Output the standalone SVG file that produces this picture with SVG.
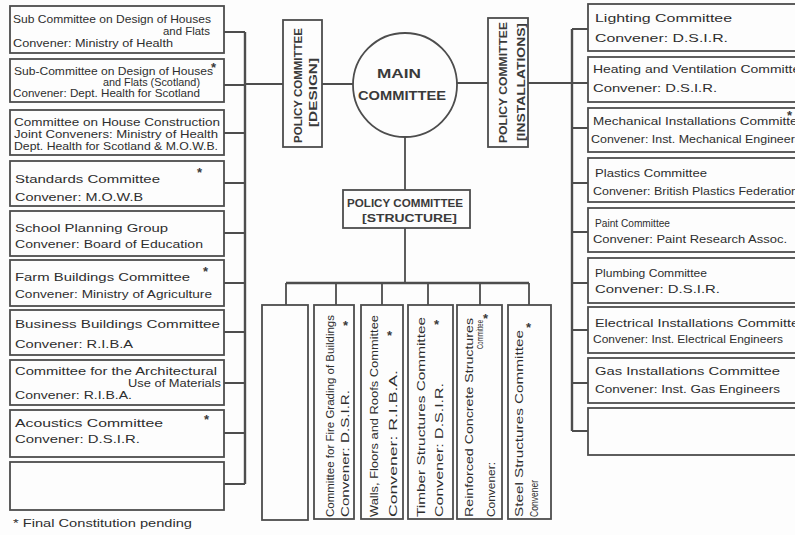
<svg xmlns="http://www.w3.org/2000/svg" width="795" height="535" viewBox="0 0 795 535">
<style>
.bg{fill:#fdfdfd}
.box{fill:none;stroke:#4d4d4d;stroke-width:1.8}
.ln{fill:none;stroke:#4d4d4d;stroke-width:1.8}
.bus{fill:none;stroke:#4d4d4d;stroke-width:2.4}
.t{font-family:"Liberation Sans",Arial,sans-serif;font-size:10.5px;fill:#2e2e2e}
.c{font-family:"Liberation Sans",Arial,sans-serif;font-weight:bold;fill:#3a3a3a}
.st{font-family:"Liberation Sans",Arial,sans-serif;font-size:9px;fill:#2e2e2e}
.ast{font-family:"Liberation Sans",Arial,sans-serif;font-size:13px;font-weight:bold;fill:#3a3a3a}
</style>
<rect class="bg" x="0" y="0" width="795" height="535"/>

<g id="connectors">
  <path class="bus" d="M245 32 V484"/>
  <path class="ln" d="M224 32 H245 M224 85 H245 M224 133 H245 M224 183 H245 M224 233 H245 M224 283 H245 M224 332 H245 M224 383 H245 M224 433 H245 M224 484 H245"/>
  <path class="ln" d="M245 84 H283 M322 84 H353 M457 83 H488 M528 83 H588"/>
  <path class="bus" d="M572 29 V431"/>
  <path class="ln" d="M572 29 H588 M572 128 H588 M572 183 H588 M572 232 H588 M572 283 H588 M572 330 H588 M572 383 H588 M572 431 H588"/>
  <path class="ln" d="M405 137 V190 M405 228 V283"/>
  <path class="bus" d="M286 283 H529"/>
  <path class="ln" d="M286 283 V305 M336 283 V305 M382 283 V305 M428 283 V305 M480 283 V305 M529 283 V305"/>
</g>

<g id="main-committee">
  <circle class="box" cx="405" cy="85" r="52" stroke-width="2"/>
  <text class="c" x="377" y="78" font-size="13" textLength="44" lengthAdjust="spacingAndGlyphs">MAIN</text>
  <text class="c" x="358" y="100" font-size="13" textLength="88" lengthAdjust="spacingAndGlyphs">COMMITTEE</text>
</g>

<g id="policy-design">
  <rect class="box" x="283" y="20" width="39" height="127"/>
  <text class="c" font-size="11" transform="translate(302,143) rotate(-90)" textLength="115" lengthAdjust="spacingAndGlyphs">POLICY COMMITTEE</text>
  <text class="c" font-size="11" transform="translate(317,127) rotate(-90)" textLength="69" lengthAdjust="spacingAndGlyphs">[DESIGN]</text>
</g>

<g id="policy-installations">
  <rect class="box" x="488" y="18" width="40" height="129"/>
  <text class="c" font-size="11" transform="translate(507,143) rotate(-90)" textLength="121" lengthAdjust="spacingAndGlyphs">POLICY COMMITTEE</text>
  <text class="c" font-size="11" transform="translate(525,141) rotate(-90)" textLength="118" lengthAdjust="spacingAndGlyphs">[INSTALLATIONS]</text>
</g>

<g id="policy-structure">
  <rect class="box" x="343" y="190" width="127" height="38"/>
  <text class="c" font-size="10.5" x="347" y="207" textLength="116" lengthAdjust="spacingAndGlyphs">POLICY COMMITTEE</text>
  <text class="c" font-size="10.5" x="362" y="222" textLength="95" lengthAdjust="spacingAndGlyphs">[STRUCTURE]</text>
</g>

<!-- Left column -->
<g id="l1">
  <rect class="box" x="10" y="6" width="214" height="47"/>
  <text class="t" x="13" y="23" textLength="198" lengthAdjust="spacingAndGlyphs">Sub Committee on Design of Houses</text>
  <text class="t" x="163" y="35" textLength="47" lengthAdjust="spacingAndGlyphs">and Flats</text>
  <text class="t" x="13" y="47" textLength="160" lengthAdjust="spacingAndGlyphs">Convener: Ministry of Health</text>
</g>
<g id="l2">
  <rect class="box" x="10" y="59" width="214" height="43"/>
  <text class="t" x="14" y="75" textLength="199" lengthAdjust="spacingAndGlyphs">Sub-Committee on Design of Houses</text>
  <text class="ast" x="211" y="72">*</text>
  <text class="t" x="103" y="86" textLength="97" lengthAdjust="spacingAndGlyphs">and Flats (Scotland)</text>
  <text class="t" x="13" y="97" textLength="187" lengthAdjust="spacingAndGlyphs">Convener: Dept. Health for Scotland</text>
</g>
<g id="l3">
  <rect class="box" x="10" y="110" width="214" height="45"/>
  <text class="t" x="14" y="126" textLength="206" lengthAdjust="spacingAndGlyphs">Committee on House Construction</text>
  <text class="t" x="14" y="138" textLength="204" lengthAdjust="spacingAndGlyphs">Joint Conveners: Ministry of Health</text>
  <text class="t" x="14" y="150" textLength="204" lengthAdjust="spacingAndGlyphs">Dept. Health for Scotland &amp; M.O.W.B.</text>
</g>
<g id="l4">
  <rect class="box" x="10" y="161" width="214" height="45"/>
  <text class="t" x="15" y="183" textLength="145" lengthAdjust="spacingAndGlyphs">Standards Committee</text>
  <text class="ast" x="197" y="177">*</text>
  <text class="t" x="15" y="201" textLength="128" lengthAdjust="spacingAndGlyphs">Convener: M.O.W.B</text>
</g>
<g id="l5">
  <rect class="box" x="10" y="211" width="214" height="45"/>
  <text class="t" x="15" y="232" textLength="153" lengthAdjust="spacingAndGlyphs">School Planning Group</text>
  <text class="t" x="15" y="248" textLength="188" lengthAdjust="spacingAndGlyphs">Convener: Board of Education</text>
</g>
<g id="l6">
  <rect class="box" x="10" y="260" width="214" height="46"/>
  <text class="t" x="15" y="281" textLength="175" lengthAdjust="spacingAndGlyphs">Farm Buildings Committee</text>
  <text class="ast" x="203" y="276">*</text>
  <text class="t" x="15" y="298" textLength="197" lengthAdjust="spacingAndGlyphs">Convener: Ministry of Agriculture</text>
</g>
<g id="l7">
  <rect class="box" x="10" y="310" width="214" height="45"/>
  <text class="t" x="15" y="328" textLength="205" lengthAdjust="spacingAndGlyphs">Business Buildings Committee</text>
  <text class="t" x="15" y="348" textLength="118" lengthAdjust="spacingAndGlyphs">Convener: R.I.B.A</text>
</g>
<g id="l8">
  <rect class="box" x="10" y="360" width="214" height="45"/>
  <text class="t" x="15" y="375" textLength="202" lengthAdjust="spacingAndGlyphs">Committee for the Architectural</text>
  <text class="t" x="128" y="387" textLength="93" lengthAdjust="spacingAndGlyphs">Use of Materials</text>
  <text class="t" x="15" y="399" textLength="117" lengthAdjust="spacingAndGlyphs">Convener: R.I.B.A.</text>
</g>
<g id="l9">
  <rect class="box" x="10" y="410" width="214" height="47"/>
  <text class="t" x="15" y="427" textLength="148" lengthAdjust="spacingAndGlyphs">Acoustics Committee</text>
  <text class="ast" x="204" y="424">*</text>
  <text class="t" x="15" y="443" textLength="125" lengthAdjust="spacingAndGlyphs">Convener: D.S.I.R.</text>
</g>
<g id="l10">
  <rect class="box" x="10" y="462" width="214" height="48"/>
</g>
<g id="footnote">
  <text class="t" x="13" y="527" textLength="179" lengthAdjust="spacingAndGlyphs">* Final Constitution pending</text>
</g>

<!-- Right column -->
<g id="r1">
  <rect class="box" x="588" y="4" width="220" height="47"/>
  <text class="t" x="595" y="22" textLength="137" lengthAdjust="spacingAndGlyphs">Lighting Committee</text>
  <text class="t" x="595" y="42" textLength="133" lengthAdjust="spacingAndGlyphs">Convener: D.S.I.R.</text>
</g>
<g id="r2">
  <rect class="box" x="588" y="57" width="220" height="45"/>
  <text class="t" x="593" y="73" textLength="215" lengthAdjust="spacingAndGlyphs">Heating and Ventilation Committee</text>
  <text class="t" x="593" y="92" textLength="124" lengthAdjust="spacingAndGlyphs">Convener: D.S.I.R.</text>
</g>
<g id="r3">
  <rect class="box" x="588" y="108" width="220" height="44"/>
  <text class="t" x="593" y="125" textLength="212" lengthAdjust="spacingAndGlyphs">Mechanical Installations Committee</text>
  <text class="ast" x="787" y="120">*</text>
  <text class="t" x="591" y="143" textLength="210" lengthAdjust="spacingAndGlyphs">Convener: Inst. Mechanical Engineers</text>
</g>
<g id="r4">
  <rect class="box" x="588" y="158" width="220" height="44"/>
  <text class="t" x="595" y="177" textLength="112" lengthAdjust="spacingAndGlyphs">Plastics Committee</text>
  <text class="t" x="593" y="195" textLength="205" lengthAdjust="spacingAndGlyphs">Convener: British Plastics Federation</text>
</g>
<g id="r5">
  <rect class="box" x="588" y="208" width="220" height="44"/>
  <text class="t" x="595" y="227" textLength="75" lengthAdjust="spacingAndGlyphs">Paint Committee</text>
  <text class="t" x="593" y="243" textLength="194" lengthAdjust="spacingAndGlyphs">Convener: Paint Research Assoc.</text>
</g>
<g id="r6">
  <rect class="box" x="588" y="258" width="220" height="45"/>
  <text class="t" x="595" y="277" textLength="112" lengthAdjust="spacingAndGlyphs">Plumbing Committee</text>
  <text class="t" x="595" y="293" textLength="125" lengthAdjust="spacingAndGlyphs">Convener: D.S.I.R.</text>
</g>
<g id="r7">
  <rect class="box" x="588" y="307" width="220" height="46"/>
  <text class="t" x="595" y="327" textLength="212" lengthAdjust="spacingAndGlyphs">Electrical Installations Committee</text>
  <text class="t" x="593" y="343" textLength="190" lengthAdjust="spacingAndGlyphs">Convener: Inst. Electrical Engineers</text>
</g>
<g id="r8">
  <rect class="box" x="588" y="358" width="220" height="45"/>
  <text class="t" x="595" y="375" textLength="185" lengthAdjust="spacingAndGlyphs">Gas Installations Committee</text>
  <text class="t" x="595" y="393" textLength="185" lengthAdjust="spacingAndGlyphs">Convener: Inst. Gas Engineers</text>
</g>
<g id="r9">
  <rect class="box" x="588" y="408" width="220" height="47"/>
</g>

<!-- Bottom structure committees -->
<g id="b1">
  <rect class="box" x="262" y="305" width="46" height="215"/>
</g>
<g id="b2">
  <rect class="box" x="314" y="305" width="40" height="214"/>
  <text class="t" transform="translate(334,517) rotate(-90)" textLength="202" lengthAdjust="spacingAndGlyphs">Committee for Fire Grading of Buildings</text>
  <text class="ast" x="343" y="330">*</text>
  <text class="t" transform="translate(349,517) rotate(-90)" textLength="127" lengthAdjust="spacingAndGlyphs">Convener: D.S.I.R.</text>
</g>
<g id="b3">
  <rect class="box" x="361" y="305" width="42" height="214"/>
  <text class="t" transform="translate(378,517) rotate(-90)" textLength="202" lengthAdjust="spacingAndGlyphs">Walls, Floors and Roofs Committee</text>
  <text class="ast" x="387" y="340">*</text>
  <text class="t" transform="translate(397,517) rotate(-90)" textLength="147" lengthAdjust="spacingAndGlyphs">Convener: R.I.B.A.</text>
</g>
<g id="b4">
  <rect class="box" x="408" y="305" width="45" height="214"/>
  <text class="t" transform="translate(425,517) rotate(-90)" textLength="200" lengthAdjust="spacingAndGlyphs">Timber Structures Committee</text>
  <text class="ast" x="434" y="329">*</text>
  <text class="t" transform="translate(443,517) rotate(-90)" textLength="134" lengthAdjust="spacingAndGlyphs">Convener: D.S.I.R.</text>
</g>
<g id="b5">
  <rect class="box" x="457" y="305" width="45" height="214"/>
  <text class="t" transform="translate(473,517) rotate(-90)" textLength="199" lengthAdjust="spacingAndGlyphs">Reinforced Concrete Structures</text>
  <text class="st" transform="translate(483,349) rotate(-90)" textLength="29" lengthAdjust="spacingAndGlyphs">Committee</text>
  <text class="ast" x="483" y="323">*</text>
  <text class="t" transform="translate(495,517) rotate(-90)" textLength="55" lengthAdjust="spacingAndGlyphs">Convener:</text>
</g>
<g id="b6">
  <rect class="box" x="508" y="305" width="43" height="214"/>
  <text class="t" transform="translate(523,517) rotate(-90)" textLength="187" lengthAdjust="spacingAndGlyphs">Steel Structures Committee</text>
  <text class="ast" x="526" y="332">*</text>
  <text class="t" transform="translate(538,517) rotate(-90)" textLength="37" lengthAdjust="spacingAndGlyphs">Convener</text>
</g>
</svg>
